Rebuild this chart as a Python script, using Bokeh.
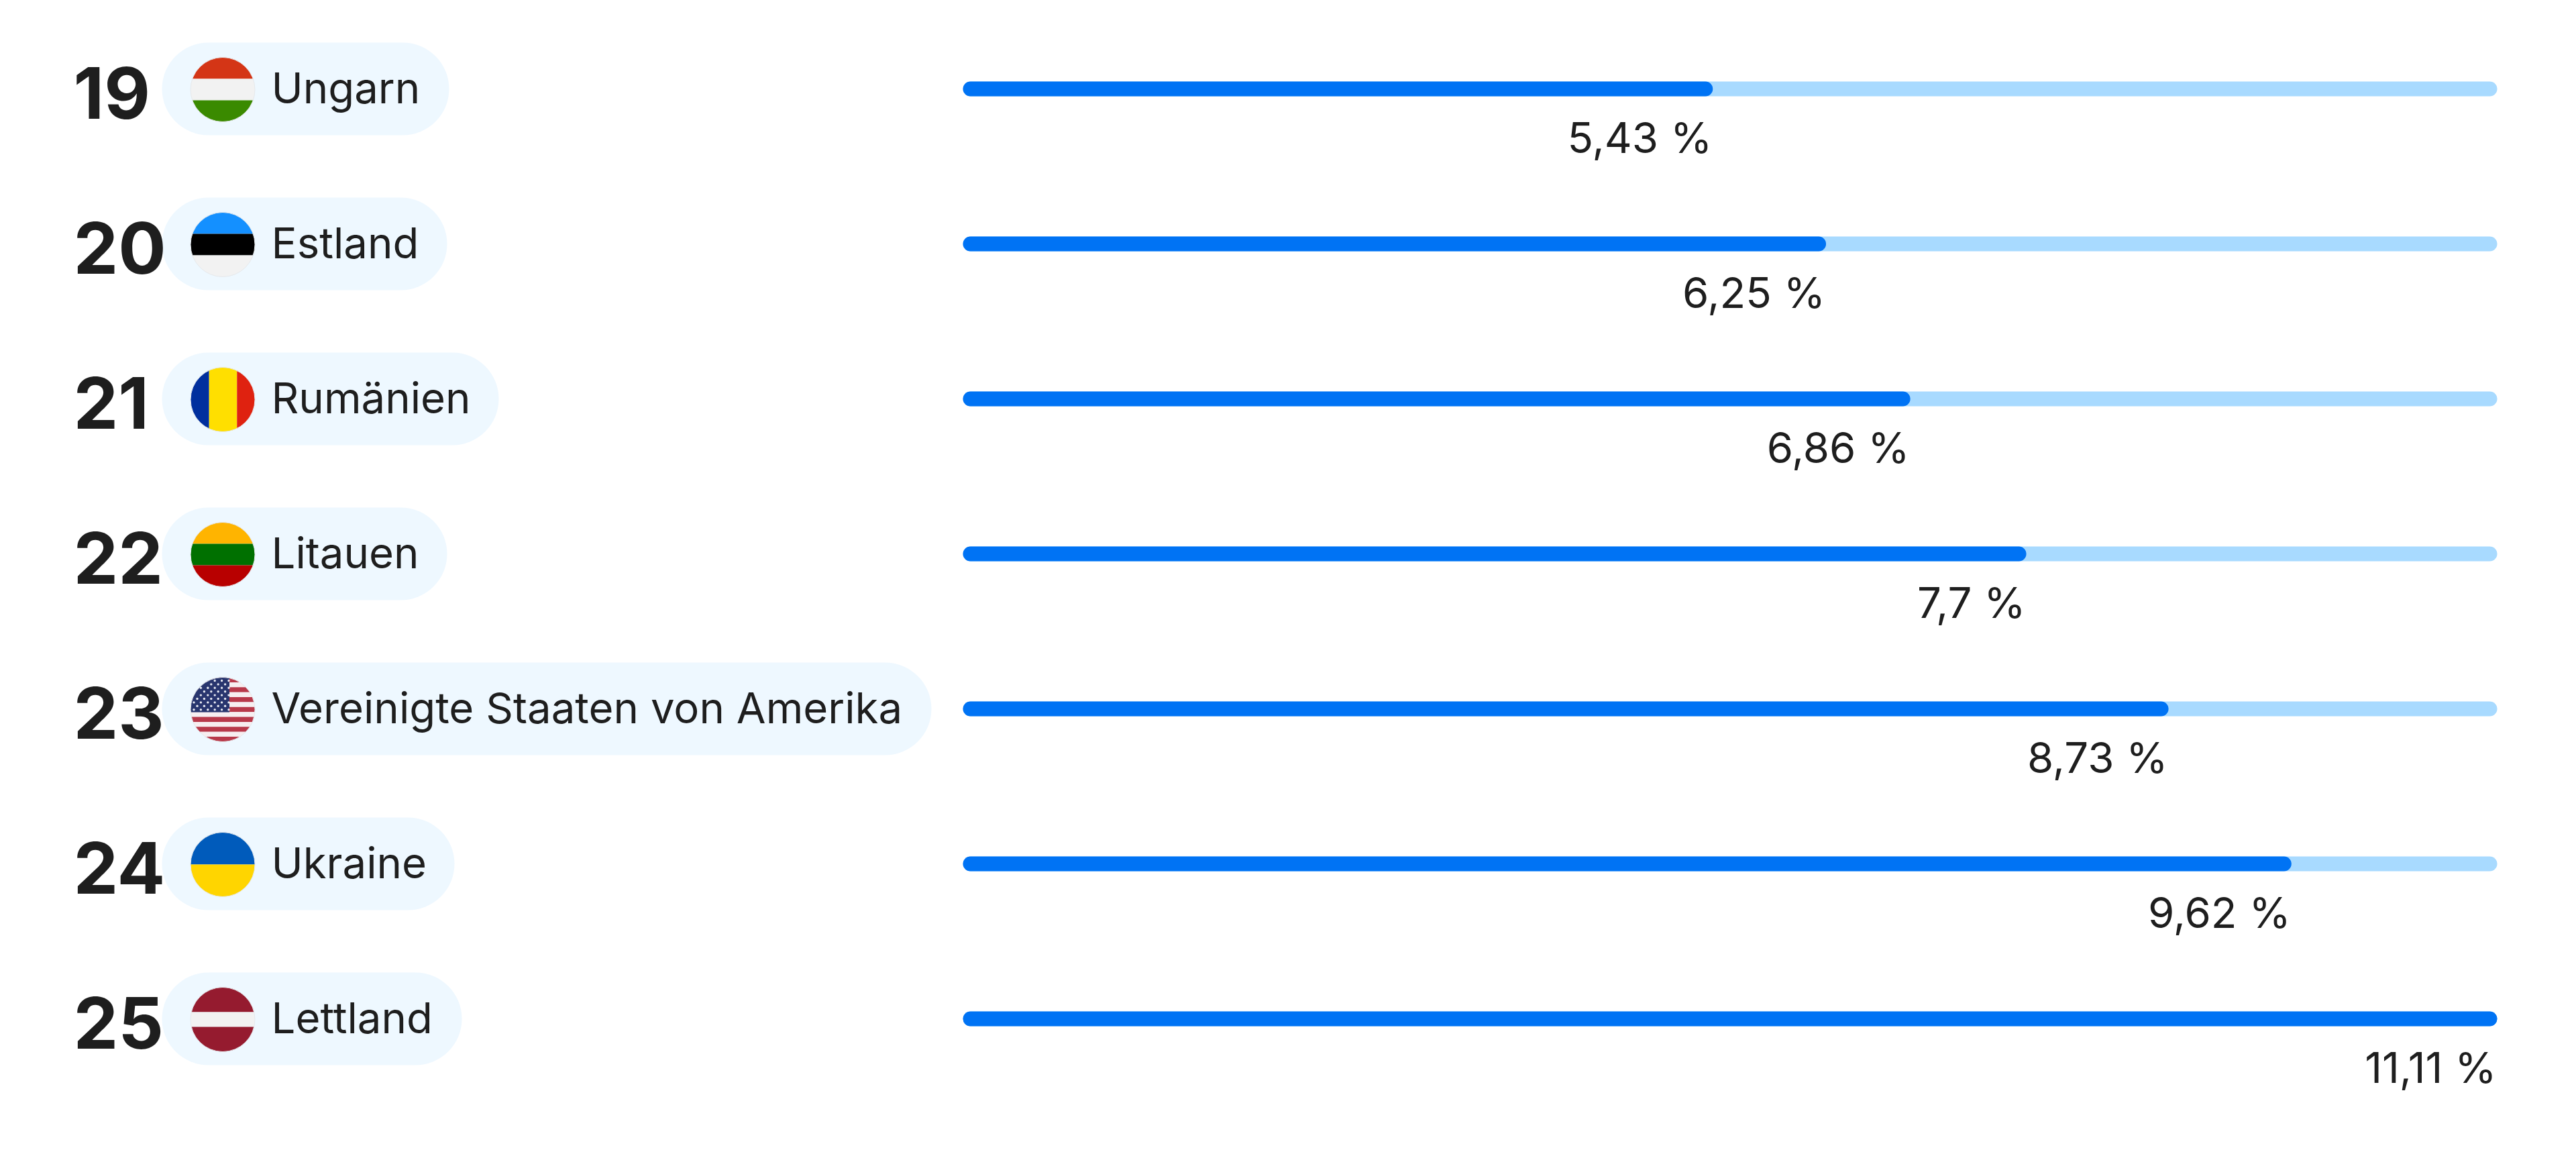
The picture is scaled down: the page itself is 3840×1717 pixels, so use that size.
import numpy as np
from bokeh.plotting import figure
from bokeh.models import Range1d, ColumnDataSource
from bokeh.core.properties import value
from bokeh.embed import file_html
from bokeh.resources import INLINE

ranks = [19, 20, 21, 22, 23, 24, 25]
countries = ["Ungarn", "Estland", "Rumänien", "Litauen", "Vereinigte Staaten von Amerika", "Ukraine", "Lettland"]
shares = [5.43, 6.25, 6.86, 7.7, 8.73, 9.62, 11.11]
share_max = 11.11
pill_right = [669, 666, 743, 666, 1388, 677, 688]

# flag layouts: (orientation, list of stripe colours and relative sizes)
flags = {
    "Ungarn": ("h", [("#D43516", 1), ("#F2F2F2", 1), ("#3A8A00", 1)]),
    "Estland": ("h", [("#1490FF", 1), ("#000000", 1), ("#F2F2F2", 1)]),
    "Rumänien": ("v", [("#002F9E", 28), ("#FFDF00", 42), ("#DF2210", 27)]),
    "Litauen": ("h", [("#FFB400", 1), ("#007000", 1), ("#B80000", 1)]),
    "Vereinigte Staaten von Amerika": ("h", [("#B8394A" if i % 2 == 0 else "#F7EEF0", 1) for i in range(13)]),
    "Ukraine": ("h", [("#005BBB", 1), ("#FFD500", 1)]),
    "Lettland": ("h", [("#951B2F", 37), ("#F2F2F2", 22), ("#951B2F", 37)]),
}

W, H = 3824, 1701
PAGE = 0
BAR_L, BAR_R = 1435, 3722
ROW0, PITCH = 132, 231
ux = (BAR_R - BAR_L) / share_max

p = figure(
    width=W, height=H, output_backend="svg", toolbar_location=None, min_border=0,
    x_range=Range1d((PAGE - BAR_L) / ux, (PAGE + W - BAR_L) / ux),
    y_range=Range1d(ranks[0] + (PAGE + H - ROW0) / PITCH, ranks[0] + (PAGE - ROW0) / PITCH),
    background_fill_color="white", border_fill_color="white", outline_line_color=None,
)
p.extra_x_ranges["px"] = Range1d(PAGE, PAGE + W)
p.extra_y_ranges["px"] = Range1d(PAGE + H, PAGE)
p.xaxis.visible = False
p.yaxis.visible = False
p.grid.visible = False

INK = "#1E1E1E"
font = value("Inter")

src = ColumnDataSource(dict(
    rank=ranks,
    rank_text=[str(r) for r in ranks],
    name=countries,
    share=shares,
    zero=[0] * len(ranks),
    full=[share_max] * len(ranks),
    share_text=[str(v).replace(".", ",") + " %" for v in shares],
    pill_l=[241] * len(ranks),
    pill_r=pill_right,
    name_x=[404] * len(ranks),
    num_x=[109] * len(ranks),
))

# tracks and values
p.hbar(y="rank", left="zero", right="full", height=22 / PITCH, source=src,
       fill_color="#A8DAFF", line_color=None, border_radius=11)
p.hbar(y="rank", left="zero", right="share", height=22 / PITCH, source=src,
       fill_color="#0073F4", line_color=None, border_radius=11)

# value labels
p.text(x="share", y="rank", text="share_text", source=src, text_font=font, text_font_size="63.5px",
       text_color=INK, text_align="right", text_baseline="alphabetic", x_offset=-1, y_offset=72)

# country pills
p.hbar(y="rank", left="pill_l", right="pill_r", height=138 / PITCH, source=src, x_range_name="px",
       fill_color="#EEF8FF", line_color=None, border_radius=69)

# rank numbers and country names
p.text(x="num_x", y="rank", text="rank_text", source=src, x_range_name="px", text_font=font,
       text_font_size="106px", text_font_style="bold", text_color=INK,
       text_align="left", text_baseline="alphabetic", y_offset=6)
p.text(x="name_x", y="rank", text="name", source=src, x_range_name="px", text_font=font,
       text_font_size="63.5px", text_color=INK, text_align="left", text_baseline="alphabetic", y_offset=-2)

# flags, in page pixels
CX, R = 331.5, 48
theta = np.linspace(0, 2 * np.pi, 181)
for rank, name in zip(ranks, countries):
    cy = ROW0 + (rank - ranks[0]) * PITCH + 1
    orient, stripes = flags[name]
    total = sum(s for _, s in stripes)
    a = -R
    xs, ys, cols = [], [], []
    for col, s in stripes:
        b = a + 2 * R * s / total
        ux_c = R * np.cos(theta)
        uy_c = R * np.sin(theta)
        if orient == "h":
            uy_c = np.clip(uy_c, a, b)
        else:
            ux_c = np.clip(ux_c, a, b)
        xs.append((CX + ux_c).tolist())
        ys.append((cy + uy_c).tolist())
        cols.append(col)
        a = b
    p.patches(xs, ys, fill_color=cols, line_color=None, x_range_name="px", y_range_name="px")
    if name.startswith("Vereinigte"):
        cx_c = np.clip(R * np.cos(theta), -R, 10)
        cy_c = np.clip(R * np.sin(theta), -R, 4)
        p.patch((CX + cx_c).tolist(), (cy + cy_c).tolist(), fill_color="#28356E", line_color=None,
                x_range_name="px", y_range_name="px")
        sx, sy = [], []
        for row in range(9):
            n = 6 if row % 2 == 0 else 5
            x0 = -43 if row % 2 == 0 else -38
            for k in range(n):
                px_ = x0 + k * 10.4
                py_ = -43 + row * 5.4
                if px_ ** 2 + py_ ** 2 < (R - 2) ** 2:
                    sx.append(CX + px_)
                    sy.append(cy + py_)
        p.scatter(sx, sy, marker="circle", size=3.4, fill_color="#E8EAF2", line_color=None,
                  x_range_name="px", y_range_name="px")
    p.scatter([CX], [cy], marker="circle", size=2 * R, fill_color=None, line_color="#E6E9EC",
              line_width=1, x_range_name="px", y_range_name="px")

open("out.html", "w").write(file_html(p, INLINE))
